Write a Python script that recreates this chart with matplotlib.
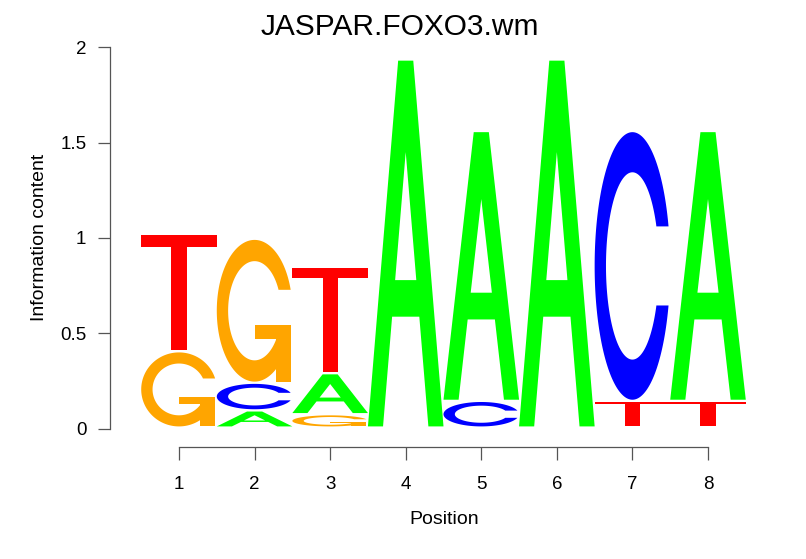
import numpy as np
import matplotlib
matplotlib.use("Agg")
import matplotlib.pyplot as plt
from matplotlib.patches import Polygon

# her pozisyonda her bazin bilgi icerigi (bit)
positions = [1, 2, 3, 4, 5, 6, 7, 8]
bases = ["A", "C", "G", "T"]
height_A = [0.0, 0.09, 0.215, 1.93, 1.415, 1.93, 0.0, 1.415]
height_C = [0.0, 0.145, 0.0, 0.0, 0.14, 0.0, 1.415, 0.0]
height_G = [0.40, 0.755, 0.07, 0.0, 0.0, 0.0, 0.0, 0.0]
height_T = [0.615, 0.0, 0.56, 0.0, 0.0, 0.0, 0.14, 0.14]
base_colors = {"A": "#00FF00", "C": "#0000FF", "G": "#FFA500", "T": "#FF0000"}
y_ticks = [0, 0.5, 1, 1.5, 2]
y_tick_labels = ["0", "0.5", "1", "1.5", "2"]
title = "JASPAR.FOXO3.wm"

plt.rcParams["font.family"] = ["Liberation Sans", "DejaVu Sans"]


# harf sekilleri (birim kare icinde), seqLogo poligonlari gibi
def ring():
    a1 = np.linspace(0.3 + np.pi / 2, np.pi, 100)
    a2 = np.linspace(np.pi, 1.5 * np.pi, 100)
    xl = np.concatenate([0.5 + 0.5 * np.sin(a1), 0.5 + 0.5 * np.sin(a2)])
    yl = np.concatenate([0.5 + 0.5 * np.cos(a1), 0.5 + 0.5 * np.cos(a2)])
    x = np.concatenate([xl, xl[::-1]])
    y = np.concatenate([yl, 1 - yl[::-1]])
    hmax = (0.5 + 0.5 * np.cos(a1)).max()
    xi1 = 0.5 + 0.35 * np.sin(a1)
    yi1 = 0.5 + 0.35 * np.cos(a1)
    keep = yi1 <= hmax
    xi1, yi1 = xi1[keep], yi1[keep]
    yi1[0] = hmax
    xi = np.concatenate([xi1, 0.5 + 0.35 * np.sin(a2)])
    yi = np.concatenate([yi1, 0.5 + 0.35 * np.cos(a2)])
    x1 = np.concatenate([xi, xi[::-1]])
    y1 = np.concatenate([yi, 1 - yi[::-1]])
    x = np.concatenate([x, x1[::-1]])
    y = np.concatenate([y, y1[::-1]])
    return x, y, (0.5 + 0.5 * np.sin(a1)).max()


def letter_shapes(base):
    if base == "A":
        outer = np.array([[0, 0], [4, 10], [6, 10], [10, 0], [8, 0], [6.8, 3], [3.2, 3], [2, 0]]) / 10
        hole = np.array([[3.6, 4], [5, 7.5], [6.4, 4]]) / 10
        return [(outer, None), (hole, "white")]
    if base == "T":
        pts = np.array([[0, 10], [10, 10], [10, 9], [6, 9], [6, 0], [4, 0], [4, 9], [0, 9]]) / 10
        return [(pts, None)]
    x, y, r1 = ring()
    shapes = [(np.column_stack([x, y]), None)]
    if base == "G":
        h1 = 0.4
        bar = np.array([[r1, h1], [0.5, h1], [0.5, h1 - 0.1], [r1 - 0.2, h1 - 0.1],
                        [r1 - 0.2, 0], [r1, 0], [r1, h1]])
        shapes.append((bar, None))
    return shapes


fig = plt.figure(figsize=(8.06, 5.59), dpi=100)
W, H = 806, 559
# piksel yerlesimi
left_px, right_px, bottom_px, top_px = 110, 777, 447.3, 32
ax = fig.add_axes([left_px / W, 1 - bottom_px / H, (right_px - left_px) / W, (bottom_px - top_px) / H])
x_scale = (708 - 179) / 7.0
y_scale = (428.7 - 47.3) / 2.0
ax.set_xlim(1 - (179 - left_px) / x_scale, 8 + (right_px - 708) / x_scale)
ax.set_ylim(-(bottom_px - 428.7) / y_scale, 2 + (47.3 - top_px) / y_scale)

heights = {"A": height_A, "C": height_C, "G": height_G, "T": height_T}
gap = 0.012
for i, pos in enumerate(positions):
    stack = sorted([(heights[b][i], b) for b in bases])
    y0 = 0.0
    for h, b in stack:
        if h <= 0:
            continue
        for pts, fill in letter_shapes(b):
            xs = pos - 0.5 + pts[:, 0]
            ys = y0 + gap + pts[:, 1] * (h - gap)
            ax.add_patch(Polygon(np.column_stack([xs, ys]), closed=True,
                                 facecolor=fill or base_colors[b], edgecolor="none"))
        y0 += h

for side in ["top", "right"]:
    ax.spines[side].set_visible(False)
ax.spines["left"].set_bounds(0, 2)
ax.spines["bottom"].set_bounds(1, 8)
for side in ["left", "bottom"]:
    ax.spines[side].set_color("#555555")
    ax.spines[side].set_linewidth(0.9)
ax.set_xticks(positions)
ax.set_xticklabels([str(p) for p in positions])
ax.set_yticks(y_ticks)
ax.set_yticklabels(y_tick_labels)
ax.tick_params(axis="both", length=9, width=0.9, color="#555555", labelsize=13.5)
ax.tick_params(axis="x", pad=12)
ax.tick_params(axis="y", pad=8)

fig.text(400 / W, 1 - 27 / H, title, ha="center", va="center", fontsize=21.5)
fig.text(444 / W, 1 - 520 / H, "Position", ha="center", va="center", fontsize=14)
fig.text(40 / W, 1 - 237 / H, "Information content", ha="center", va="center",
         rotation=90, fontsize=14)

fig.savefig("out.png", dpi=100)
